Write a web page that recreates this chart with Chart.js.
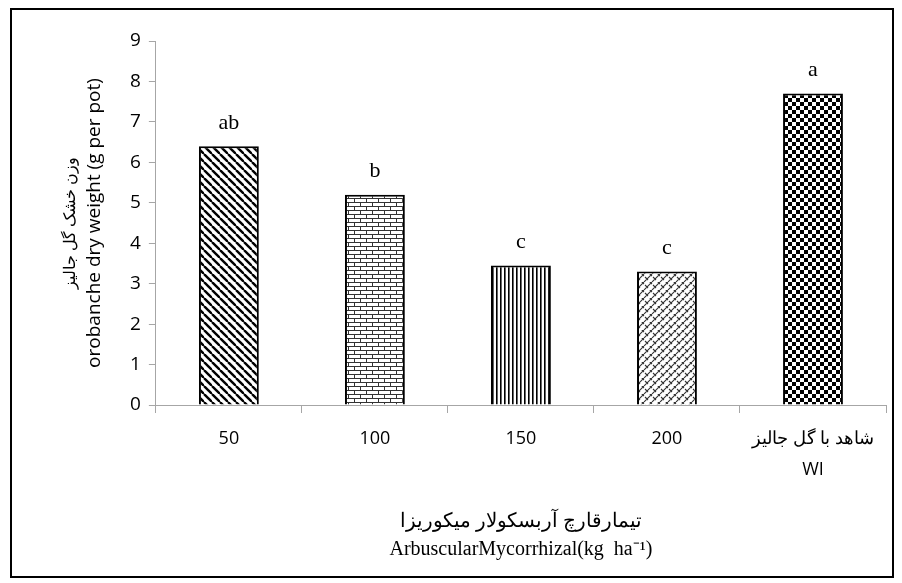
<html lang="en">
<head>
  <meta charset="UTF-8">
  <title>Orobanche dry weight</title>
  <style>
    body { margin: 0; background: #fff; }
    #box { position: absolute; left: 10px; top: 8px; width: 880px; height: 566px; border: 2px solid #000; }
  </style>
</head>
<body>
  <div id="box"><canvas id="myChart"></canvas></div>
  <script src="https://cdn.jsdelivr.net/npm/chart.js@4/dist/chart.umd.min.js"></script>
  <script>
    const labels = ['50', '100', '150', '200', ['شاهد با گل جالیز', 'WI']];
    const weights = [6.4, 5.2, 3.45, 3.3, 7.7];
    const letters = ['ab', 'b', 'c', 'c', 'a'];
    const yTicks = [0, 1, 2, 3, 4, 5, 6, 7, 8, 9];

    // little tiles for the hatch fills
    function tile(w, h, draw) {
      const c = document.createElement('canvas');
      c.width = w; c.height = h;
      const g = c.getContext('2d');
      g.fillStyle = '#fff';
      g.fillRect(0, 0, w, h);
      g.strokeStyle = '#000';
      g.fillStyle = '#000';
      draw(g);
      return g.createPattern(c, 'repeat');
    }

    const diag = tile(8, 8, g => {
      g.lineWidth = 2.4;
      for (let k = -8; k <= 8; k += 8) {
        g.beginPath(); g.moveTo(k, 0); g.lineTo(k + 8, 8); g.stroke();
      }
    });
    const brick = tile(12, 8, g => {
      g.strokeStyle = '#333';
      g.lineWidth = 1;
      g.beginPath();
      g.moveTo(0, 0.5); g.lineTo(12, 0.5);
      g.moveTo(0, 4.5); g.lineTo(12, 4.5);
      g.moveTo(0.5, 0); g.lineTo(0.5, 4);
      g.moveTo(6.5, 4); g.lineTo(6.5, 8);
      g.stroke();
    });
    const vert = tile(4, 4, g => {
      g.fillRect(0, 0, 1.6, 4);
    });
    const weave = tile(8, 8, g => {
      g.strokeStyle = '#333';
      g.lineWidth = 1.1;
      g.beginPath();
      for (let k = -8; k <= 8; k += 8) {
        g.moveTo(k, 8); g.lineTo(k + 8, 0);
      }
      g.moveTo(1, 3); g.lineTo(4, 6);
      g.moveTo(5, -1); g.lineTo(8, 2);
      g.moveTo(-3, -1); g.lineTo(0, 2);
      g.stroke();
    });
    const checker = tile(8, 8, g => {
      g.fillRect(0, 0, 4, 4);
      g.fillRect(4, 4, 4, 4);
    });

    const letterPlugin = {
      id: 'letters',
      afterDatasetsDraw(chart) {
        const ctx = chart.ctx;
        const meta = chart.getDatasetMeta(0);
        ctx.save();
        ctx.font = '22px "Liberation Serif"';
        ctx.fillStyle = '#000';
        ctx.textAlign = 'center';
        ctx.textBaseline = 'bottom';
        meta.data.forEach((bar, i) => {
          ctx.fillText(letters[i], bar.x, bar.y - 12);
        });
        ctx.restore();
      }
    };

    // y title: two lines, different sizes
    const yTitlePlugin = {
      id: 'ytitle',
      afterDraw(chart) {
        const a = chart.chartArea;
        const ctx = chart.ctx;
        const cy = (a.top + a.bottom) / 2;
        ctx.save();
        ctx.fillStyle = '#000';
        ctx.textAlign = 'center';
        ctx.textBaseline = 'middle';
        ctx.translate(58, cy);
        ctx.rotate(-Math.PI / 2);
        ctx.font = '16px "Open Sans"';
        ctx.fillText('وزن خشک گل جالیز', 0, 0);
        ctx.font = '19px "Open Sans"';
        ctx.fillText('orobanche dry weight (g per pot)', 0, 25);
        ctx.restore();
      }
    };

    const ctx = document.getElementById('myChart');
    const myChart = new Chart(ctx, {
      type: 'bar',
      data: {
        labels: labels,
        datasets: [{
          data: weights,
          backgroundColor: [diag, brick, vert, weave, checker],
          borderColor: '#000',
          borderWidth: 2,
          categoryPercentage: 1,
          barPercentage: 0.41
        }]
      },
      options: {
        responsive: true,
        maintainAspectRatio: false,
        animation: false,
        layout: { padding: { top: 31, right: 6, bottom: 8, left: 110 } },
        plugins: {
          legend: { display: false },
          tooltip: { enabled: false }
        },
        scales: {
          x: {
            border: { color: '#a6a6a6', width: 1 },
            grid: { drawOnChartArea: false, color: '#a6a6a6', tickLength: 8 },
            ticks: { color: '#000', font: { family: 'Open Sans', size: 18, lineHeight: 1.75 }, padding: 10, maxRotation: 0 },
            title: {
              display: true,
              text: ['تیمارقارچ آربسکولار میکوریزا', 'ArbuscularMycorrhizal(kg  ha⁻¹)'],
              color: '#000',
              font: { family: 'Liberation Serif', size: 20, lineHeight: 1.4 },
              padding: { top: 12 }
            }
          },
          y: {
            min: 0,
            max: 9,
            afterBuildTicks: axis => { axis.ticks = yTicks.map(v => ({ value: v })); },
            border: { color: '#a6a6a6', width: 1 },
            grid: { drawOnChartArea: false, color: '#a6a6a6', tickLength: 7 },
            ticks: { color: '#000', font: { family: 'Open Sans', size: 19 }, padding: 8 }
          }
        }
      },
      plugins: [letterPlugin, yTitlePlugin]
    });
  </script>
</body>
</html>
